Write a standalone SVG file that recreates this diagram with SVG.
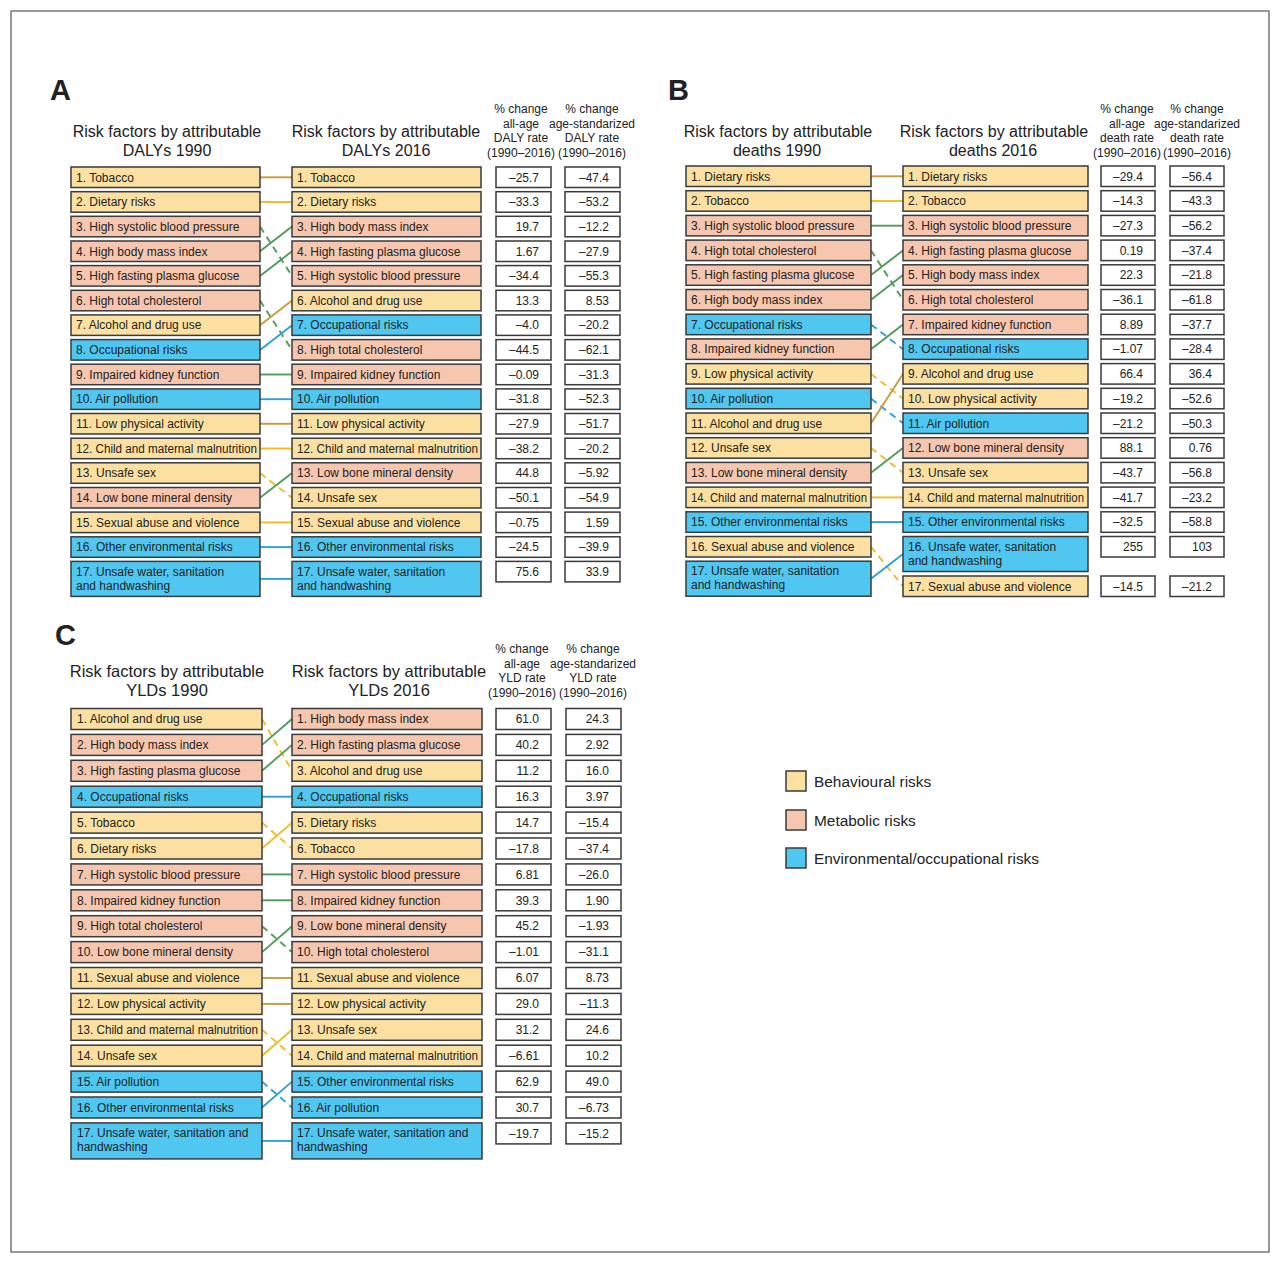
<svg xmlns="http://www.w3.org/2000/svg" width="1280" height="1264" viewBox="0 0 1280 1264">
<style>
text{font-family:"Liberation Sans",Arial,Helvetica,sans-serif;fill:#222;font-size:12px}
.bh{fill:#FBE0A1;stroke:#3a3a3a;stroke-width:1.5}
.me{fill:#F6C6AF;stroke:#3a3a3a;stroke-width:1.5}
.en{fill:#4FC7F1;stroke:#3a3a3a;stroke-width:1.5}
.nb{fill:#fff;stroke:#3a3a3a;stroke-width:1.5}
.n{text-anchor:end}
.t{font-size:16px;text-anchor:middle}
.tc{font-size:16.5px;text-anchor:middle}
.h{text-anchor:middle}
.pl{font-size:29px;font-weight:bold}
.lg{font-size:15.4px}
#conn line{fill:none;stroke-width:1.9}
.cg{stroke:#C99A3A}
.cy{stroke:#F0BC22}
.cm{stroke:#4F9B59}
.ce{stroke:#2C9FDB}
.d{stroke-dasharray:7 5}
</style>
<rect x="11" y="11" width="1258" height="1241" fill="#fff" stroke="#333" stroke-width="1"/>

<!-- headings -->
<g id="headings">
<text class="pl" x="50" y="100">A</text>
<text class="t" x="167" y="137">Risk factors by attributable</text>
<text class="t" x="167" y="156">DALYs 1990</text>
<text class="t" x="386" y="137">Risk factors by attributable</text>
<text class="t" x="386" y="156">DALYs 2016</text>
<text class="h" x="521" y="113">% change</text>
<text class="h" x="521" y="128">all-age</text>
<text class="h" x="521" y="142">DALY rate</text>
<text class="h" x="521" y="157">(1990–2016)</text>
<text class="h" x="592" y="113">% change</text>
<text class="h" x="592" y="128">age-standarized</text>
<text class="h" x="592" y="142">DALY rate</text>
<text class="h" x="592" y="157">(1990–2016)</text>

<text class="pl" x="668" y="100">B</text>
<text class="t" x="778" y="137">Risk factors by attributable</text>
<text class="t" x="777" y="156">deaths 1990</text>
<text class="t" x="994" y="137">Risk factors by attributable</text>
<text class="t" x="993" y="156">deaths 2016</text>
<text class="h" x="1127" y="113">% change</text>
<text class="h" x="1127" y="128">all-age</text>
<text class="h" x="1127" y="142">death rate</text>
<text class="h" x="1127" y="157">(1990–2016)</text>
<text class="h" x="1197" y="113">% change</text>
<text class="h" x="1197" y="128">age-standarized</text>
<text class="h" x="1197" y="142">death rate</text>
<text class="h" x="1197" y="157">(1990–2016)</text>

<text class="pl" x="55" y="645">C</text>
<text class="tc" x="167" y="677">Risk factors by attributable</text>
<text class="tc" x="167" y="696">YLDs 1990</text>
<text class="tc" x="389" y="677">Risk factors by attributable</text>
<text class="tc" x="389" y="696">YLDs 2016</text>
<text class="h" x="522" y="653">% change</text>
<text class="h" x="522" y="668">all-age</text>
<text class="h" x="522" y="682">YLD rate</text>
<text class="h" x="522" y="697">(1990–2016)</text>
<text class="h" x="593" y="653">% change</text>
<text class="h" x="593" y="668">age-standarized</text>
<text class="h" x="593" y="682">YLD rate</text>
<text class="h" x="593" y="697">(1990–2016)</text>
</g>

<!-- connectors -->
<g id="conn">
<line class="cg" x1="260" y1="177.3" x2="292" y2="177.3"/>
<line class="cy" x1="260" y1="202" x2="292" y2="202"/>
<line class="cm d" x1="260" y1="226.6" x2="292" y2="275.9"/>
<line class="cm" x1="260" y1="251.3" x2="292" y2="226.6"/>
<line class="cm" x1="260" y1="275.9" x2="292" y2="251.3"/>
<line class="cm d" x1="260" y1="300.6" x2="292" y2="349.9"/>
<line class="cg" x1="260" y1="325.2" x2="292" y2="300.6"/>
<line class="ce" x1="260" y1="349.9" x2="292" y2="325.2"/>
<line class="cm" x1="260" y1="374.5" x2="292" y2="374.5"/>
<line class="ce" x1="260" y1="399.2" x2="292" y2="399.2"/>
<line class="cg" x1="260" y1="423.8" x2="292" y2="423.8"/>
<line class="cy" x1="260" y1="448.5" x2="292" y2="448.5"/>
<line class="cy d" x1="260" y1="473.1" x2="292" y2="497.8"/>
<line class="cm" x1="260" y1="497.8" x2="292" y2="473.1"/>
<line class="cy" x1="260" y1="522.4" x2="292" y2="522.4"/>
<line class="ce" x1="260" y1="547.1" x2="292" y2="547.1"/>
<line class="ce" x1="260" y1="578.9" x2="292" y2="578.9"/>

<line class="cg" x1="871" y1="176.3" x2="903" y2="176.3"/>
<line class="cy" x1="871" y1="201" x2="903" y2="201"/>
<line class="cm" x1="871" y1="225.7" x2="903" y2="225.7"/>
<line class="cm d" x1="871" y1="250.4" x2="903" y2="299.8"/>
<line class="cm" x1="871" y1="275.1" x2="903" y2="250.4"/>
<line class="cm" x1="871" y1="299.8" x2="903" y2="275.1"/>
<line class="ce d" x1="871" y1="324.5" x2="903" y2="349.2"/>
<line class="cm" x1="871" y1="349.2" x2="903" y2="324.5"/>
<line class="cy d" x1="871" y1="373.9" x2="903" y2="398.6"/>
<line class="ce d" x1="871" y1="398.6" x2="903" y2="423.3"/>
<line class="cg" x1="871" y1="423.3" x2="903" y2="373.9"/>
<line class="cy d" x1="871" y1="448" x2="903" y2="472.7"/>
<line class="cm" x1="871" y1="472.7" x2="903" y2="448"/>
<line class="cy" x1="871" y1="497.4" x2="903" y2="497.4"/>
<line class="ce" x1="871" y1="522.1" x2="903" y2="522.1"/>
<line class="cy d" x1="871" y1="546.8" x2="903" y2="586.3"/>
<line class="ce" x1="871" y1="578.7" x2="903" y2="554"/>

<line class="cy d" x1="262" y1="719" x2="292" y2="770.8"/>
<line class="cm" x1="262" y1="744.9" x2="292" y2="719"/>
<line class="cm" x1="262" y1="770.8" x2="292" y2="744.9"/>
<line class="ce" x1="262" y1="796.7" x2="292" y2="796.7"/>
<line class="cy d" x1="262" y1="822.6" x2="292" y2="848.5"/>
<line class="cy" x1="262" y1="848.5" x2="292" y2="822.6"/>
<line class="cm" x1="262" y1="874.4" x2="292" y2="874.4"/>
<line class="cm" x1="262" y1="900.3" x2="292" y2="900.3"/>
<line class="cm d" x1="262" y1="926.2" x2="292" y2="952.1"/>
<line class="cm" x1="262" y1="952.1" x2="292" y2="926.2"/>
<line class="cg" x1="262" y1="978" x2="292" y2="978"/>
<line class="cg" x1="262" y1="1003.9" x2="292" y2="1003.9"/>
<line class="cy d" x1="262" y1="1029.8" x2="292" y2="1055.7"/>
<line class="cy" x1="262" y1="1055.7" x2="292" y2="1029.8"/>
<line class="ce d" x1="262" y1="1081.6" x2="292" y2="1107.5"/>
<line class="ce" x1="262" y1="1107.5" x2="292" y2="1081.6"/>
<line class="ce" x1="262" y1="1140.9" x2="292" y2="1140.9"/>
</g>

<!-- Panel A, 1990 -->
<g id="a90-1" transform="translate(71,167)"><rect class="bh" width="189" height="20.5"/><text x="5" y="14.5">1. Tobacco</text></g>
<g id="a90-2" transform="translate(71,191.7)"><rect class="bh" width="189" height="20.5"/><text x="5" y="14.5">2. Dietary risks</text></g>
<g id="a90-3" transform="translate(71,216.3)"><rect class="me" width="189" height="20.5"/><text x="5" y="14.5">3. High systolic blood pressure</text></g>
<g id="a90-4" transform="translate(71,241)"><rect class="me" width="189" height="20.5"/><text x="5" y="14.5">4. High body mass index</text></g>
<g id="a90-5" transform="translate(71,265.6)"><rect class="me" width="189" height="20.5"/><text x="5" y="14.5">5. High fasting plasma glucose</text></g>
<g id="a90-6" transform="translate(71,290.3)"><rect class="me" width="189" height="20.5"/><text x="5" y="14.5">6. High total cholesterol</text></g>
<g id="a90-7" transform="translate(71,314.9)"><rect class="bh" width="189" height="20.5"/><text x="5" y="14.5">7. Alcohol and drug use</text></g>
<g id="a90-8" transform="translate(71,339.6)"><rect class="en" width="189" height="20.5"/><text x="5" y="14.5">8. Occupational risks</text></g>
<g id="a90-9" transform="translate(71,364.2)"><rect class="me" width="189" height="20.5"/><text x="5" y="14.5">9. Impaired kidney function</text></g>
<g id="a90-10" transform="translate(71,388.9)"><rect class="en" width="189" height="20.5"/><text x="5" y="14.5">10. Air pollution</text></g>
<g id="a90-11" transform="translate(71,413.5)"><rect class="bh" width="189" height="20.5"/><text x="5" y="14.5">11. Low physical activity</text></g>
<g id="a90-12" transform="translate(71,438.2)"><rect class="bh" width="189" height="20.5"/><text x="5" y="14.5" textLength="181" lengthAdjust="spacingAndGlyphs">12. Child and maternal malnutrition</text></g>
<g id="a90-13" transform="translate(71,462.8)"><rect class="bh" width="189" height="20.5"/><text x="5" y="14.5">13. Unsafe sex</text></g>
<g id="a90-14" transform="translate(71,487.5)"><rect class="me" width="189" height="20.5"/><text x="5" y="14.5">14. Low bone mineral density</text></g>
<g id="a90-15" transform="translate(71,512.1)"><rect class="bh" width="189" height="20.5"/><text x="5" y="14.5">15. Sexual abuse and violence</text></g>
<g id="a90-16" transform="translate(71,536.8)"><rect class="en" width="189" height="20.5"/><text x="5" y="14.5">16. Other environmental risks</text></g>
<g id="a90-17" transform="translate(71,561.4)"><rect class="en" width="189" height="35"/><text x="5" y="14.3">17. Unsafe water, sanitation</text><text x="5" y="28.3">and handwashing</text></g>

<!-- Panel A, 2016 -->
<g id="a16-1" transform="translate(292,167)"><rect class="bh" width="189" height="20.5"/><text x="5" y="14.5">1. Tobacco</text></g>
<g id="a16-2" transform="translate(292,191.7)"><rect class="bh" width="189" height="20.5"/><text x="5" y="14.5">2. Dietary risks</text></g>
<g id="a16-3" transform="translate(292,216.3)"><rect class="me" width="189" height="20.5"/><text x="5" y="14.5">3. High body mass index</text></g>
<g id="a16-4" transform="translate(292,241)"><rect class="me" width="189" height="20.5"/><text x="5" y="14.5">4. High fasting plasma glucose</text></g>
<g id="a16-5" transform="translate(292,265.6)"><rect class="me" width="189" height="20.5"/><text x="5" y="14.5">5. High systolic blood pressure</text></g>
<g id="a16-6" transform="translate(292,290.3)"><rect class="bh" width="189" height="20.5"/><text x="5" y="14.5">6. Alcohol and drug use</text></g>
<g id="a16-7" transform="translate(292,314.9)"><rect class="en" width="189" height="20.5"/><text x="5" y="14.5">7. Occupational risks</text></g>
<g id="a16-8" transform="translate(292,339.6)"><rect class="me" width="189" height="20.5"/><text x="5" y="14.5">8. High total cholesterol</text></g>
<g id="a16-9" transform="translate(292,364.2)"><rect class="me" width="189" height="20.5"/><text x="5" y="14.5">9. Impaired kidney function</text></g>
<g id="a16-10" transform="translate(292,388.9)"><rect class="en" width="189" height="20.5"/><text x="5" y="14.5">10. Air pollution</text></g>
<g id="a16-11" transform="translate(292,413.5)"><rect class="bh" width="189" height="20.5"/><text x="5" y="14.5">11. Low physical activity</text></g>
<g id="a16-12" transform="translate(292,438.2)"><rect class="bh" width="189" height="20.5"/><text x="5" y="14.5" textLength="181" lengthAdjust="spacingAndGlyphs">12. Child and maternal malnutrition</text></g>
<g id="a16-13" transform="translate(292,462.8)"><rect class="me" width="189" height="20.5"/><text x="5" y="14.5">13. Low bone mineral density</text></g>
<g id="a16-14" transform="translate(292,487.5)"><rect class="bh" width="189" height="20.5"/><text x="5" y="14.5">14. Unsafe sex</text></g>
<g id="a16-15" transform="translate(292,512.1)"><rect class="bh" width="189" height="20.5"/><text x="5" y="14.5">15. Sexual abuse and violence</text></g>
<g id="a16-16" transform="translate(292,536.8)"><rect class="en" width="189" height="20.5"/><text x="5" y="14.5">16. Other environmental risks</text></g>
<g id="a16-17" transform="translate(292,561.4)"><rect class="en" width="189" height="35"/><text x="5" y="14.3">17. Unsafe water, sanitation</text><text x="5" y="28.3">and handwashing</text></g>

<!-- Panel A numbers -->
<g id="a-n1" transform="translate(0,167)"><rect class="nb" x="496" width="55" height="20.5"/><rect class="nb" x="565" width="55" height="20.5"/><text class="n" x="539" y="14.5">–25.7</text><text class="n" x="609" y="14.5">–47.4</text></g>
<g id="a-n2" transform="translate(0,191.7)"><rect class="nb" x="496" width="55" height="20.5"/><rect class="nb" x="565" width="55" height="20.5"/><text class="n" x="539" y="14.5">–33.3</text><text class="n" x="609" y="14.5">–53.2</text></g>
<g id="a-n3" transform="translate(0,216.3)"><rect class="nb" x="496" width="55" height="20.5"/><rect class="nb" x="565" width="55" height="20.5"/><text class="n" x="539" y="14.5">19.7</text><text class="n" x="609" y="14.5">–12.2</text></g>
<g id="a-n4" transform="translate(0,241)"><rect class="nb" x="496" width="55" height="20.5"/><rect class="nb" x="565" width="55" height="20.5"/><text class="n" x="539" y="14.5">1.67</text><text class="n" x="609" y="14.5">–27.9</text></g>
<g id="a-n5" transform="translate(0,265.6)"><rect class="nb" x="496" width="55" height="20.5"/><rect class="nb" x="565" width="55" height="20.5"/><text class="n" x="539" y="14.5">–34.4</text><text class="n" x="609" y="14.5">–55.3</text></g>
<g id="a-n6" transform="translate(0,290.3)"><rect class="nb" x="496" width="55" height="20.5"/><rect class="nb" x="565" width="55" height="20.5"/><text class="n" x="539" y="14.5">13.3</text><text class="n" x="609" y="14.5">8.53</text></g>
<g id="a-n7" transform="translate(0,314.9)"><rect class="nb" x="496" width="55" height="20.5"/><rect class="nb" x="565" width="55" height="20.5"/><text class="n" x="539" y="14.5">–4.0</text><text class="n" x="609" y="14.5">–20.2</text></g>
<g id="a-n8" transform="translate(0,339.6)"><rect class="nb" x="496" width="55" height="20.5"/><rect class="nb" x="565" width="55" height="20.5"/><text class="n" x="539" y="14.5">–44.5</text><text class="n" x="609" y="14.5">–62.1</text></g>
<g id="a-n9" transform="translate(0,364.2)"><rect class="nb" x="496" width="55" height="20.5"/><rect class="nb" x="565" width="55" height="20.5"/><text class="n" x="539" y="14.5">–0.09</text><text class="n" x="609" y="14.5">–31.3</text></g>
<g id="a-n10" transform="translate(0,388.9)"><rect class="nb" x="496" width="55" height="20.5"/><rect class="nb" x="565" width="55" height="20.5"/><text class="n" x="539" y="14.5">–31.8</text><text class="n" x="609" y="14.5">–52.3</text></g>
<g id="a-n11" transform="translate(0,413.5)"><rect class="nb" x="496" width="55" height="20.5"/><rect class="nb" x="565" width="55" height="20.5"/><text class="n" x="539" y="14.5">–27.9</text><text class="n" x="609" y="14.5">–51.7</text></g>
<g id="a-n12" transform="translate(0,438.2)"><rect class="nb" x="496" width="55" height="20.5"/><rect class="nb" x="565" width="55" height="20.5"/><text class="n" x="539" y="14.5">–38.2</text><text class="n" x="609" y="14.5">–20.2</text></g>
<g id="a-n13" transform="translate(0,462.8)"><rect class="nb" x="496" width="55" height="20.5"/><rect class="nb" x="565" width="55" height="20.5"/><text class="n" x="539" y="14.5">44.8</text><text class="n" x="609" y="14.5">–5.92</text></g>
<g id="a-n14" transform="translate(0,487.5)"><rect class="nb" x="496" width="55" height="20.5"/><rect class="nb" x="565" width="55" height="20.5"/><text class="n" x="539" y="14.5">–50.1</text><text class="n" x="609" y="14.5">–54.9</text></g>
<g id="a-n15" transform="translate(0,512.1)"><rect class="nb" x="496" width="55" height="20.5"/><rect class="nb" x="565" width="55" height="20.5"/><text class="n" x="539" y="14.5">–0.75</text><text class="n" x="609" y="14.5">1.59</text></g>
<g id="a-n16" transform="translate(0,536.8)"><rect class="nb" x="496" width="55" height="20.5"/><rect class="nb" x="565" width="55" height="20.5"/><text class="n" x="539" y="14.5">–24.5</text><text class="n" x="609" y="14.5">–39.9</text></g>
<g id="a-n17" transform="translate(0,561.4)"><rect class="nb" x="496" width="55" height="20.5"/><rect class="nb" x="565" width="55" height="20.5"/><text class="n" x="539" y="14.5">75.6</text><text class="n" x="609" y="14.5">33.9</text></g>

<!-- Panel B, 1990 -->
<g id="b90-1" transform="translate(686,166)"><rect class="bh" width="185" height="20.5"/><text x="5" y="14.5">1. Dietary risks</text></g>
<g id="b90-2" transform="translate(686,190.7)"><rect class="bh" width="185" height="20.5"/><text x="5" y="14.5">2. Tobacco</text></g>
<g id="b90-3" transform="translate(686,215.4)"><rect class="me" width="185" height="20.5"/><text x="5" y="14.5">3. High systolic blood pressure</text></g>
<g id="b90-4" transform="translate(686,240.1)"><rect class="me" width="185" height="20.5"/><text x="5" y="14.5">4. High total cholesterol</text></g>
<g id="b90-5" transform="translate(686,264.8)"><rect class="me" width="185" height="20.5"/><text x="5" y="14.5">5. High fasting plasma glucose</text></g>
<g id="b90-6" transform="translate(686,289.5)"><rect class="me" width="185" height="20.5"/><text x="5" y="14.5">6. High body mass index</text></g>
<g id="b90-7" transform="translate(686,314.2)"><rect class="en" width="185" height="20.5"/><text x="5" y="14.5">7. Occupational risks</text></g>
<g id="b90-8" transform="translate(686,338.9)"><rect class="me" width="185" height="20.5"/><text x="5" y="14.5">8. Impaired kidney function</text></g>
<g id="b90-9" transform="translate(686,363.6)"><rect class="bh" width="185" height="20.5"/><text x="5" y="14.5">9. Low physical activity</text></g>
<g id="b90-10" transform="translate(686,388.3)"><rect class="en" width="185" height="20.5"/><text x="5" y="14.5">10. Air pollution</text></g>
<g id="b90-11" transform="translate(686,413)"><rect class="bh" width="185" height="20.5"/><text x="5" y="14.5">11. Alcohol and drug use</text></g>
<g id="b90-12" transform="translate(686,437.7)"><rect class="bh" width="185" height="20.5"/><text x="5" y="14.5">12. Unsafe sex</text></g>
<g id="b90-13" transform="translate(686,462.4)"><rect class="me" width="185" height="20.5"/><text x="5" y="14.5">13. Low bone mineral density</text></g>
<g id="b90-14" transform="translate(686,487.1)"><rect class="bh" width="185" height="20.5"/><text x="5" y="14.5" textLength="176" lengthAdjust="spacingAndGlyphs">14. Child and maternal malnutrition</text></g>
<g id="b90-15" transform="translate(686,511.8)"><rect class="en" width="185" height="20.5"/><text x="5" y="14.5">15. Other environmental risks</text></g>
<g id="b90-16" transform="translate(686,536.5)"><rect class="bh" width="185" height="20.5"/><text x="5" y="14.5">16. Sexual abuse and violence</text></g>
<g id="b90-17" transform="translate(686,561.2)"><rect class="en" width="185" height="35"/><text x="5" y="14.3">17. Unsafe water, sanitation</text><text x="5" y="28.3">and handwashing</text></g>

<!-- Panel B, 2016 -->
<g id="b16-1" transform="translate(903,166)"><rect class="bh" width="185" height="20.5"/><text x="5" y="14.5">1. Dietary risks</text></g>
<g id="b16-2" transform="translate(903,190.7)"><rect class="bh" width="185" height="20.5"/><text x="5" y="14.5">2. Tobacco</text></g>
<g id="b16-3" transform="translate(903,215.4)"><rect class="me" width="185" height="20.5"/><text x="5" y="14.5">3. High systolic blood pressure</text></g>
<g id="b16-4" transform="translate(903,240.1)"><rect class="me" width="185" height="20.5"/><text x="5" y="14.5">4. High fasting plasma glucose</text></g>
<g id="b16-5" transform="translate(903,264.8)"><rect class="me" width="185" height="20.5"/><text x="5" y="14.5">5. High body mass index</text></g>
<g id="b16-6" transform="translate(903,289.5)"><rect class="me" width="185" height="20.5"/><text x="5" y="14.5">6. High total cholesterol</text></g>
<g id="b16-7" transform="translate(903,314.2)"><rect class="me" width="185" height="20.5"/><text x="5" y="14.5">7. Impaired kidney function</text></g>
<g id="b16-8" transform="translate(903,338.9)"><rect class="en" width="185" height="20.5"/><text x="5" y="14.5">8. Occupational risks</text></g>
<g id="b16-9" transform="translate(903,363.6)"><rect class="bh" width="185" height="20.5"/><text x="5" y="14.5">9. Alcohol and drug use</text></g>
<g id="b16-10" transform="translate(903,388.3)"><rect class="bh" width="185" height="20.5"/><text x="5" y="14.5">10. Low physical activity</text></g>
<g id="b16-11" transform="translate(903,413)"><rect class="en" width="185" height="20.5"/><text x="5" y="14.5">11. Air pollution</text></g>
<g id="b16-12" transform="translate(903,437.7)"><rect class="me" width="185" height="20.5"/><text x="5" y="14.5">12. Low bone mineral density</text></g>
<g id="b16-13" transform="translate(903,462.4)"><rect class="bh" width="185" height="20.5"/><text x="5" y="14.5">13. Unsafe sex</text></g>
<g id="b16-14" transform="translate(903,487.1)"><rect class="bh" width="185" height="20.5"/><text x="5" y="14.5" textLength="176" lengthAdjust="spacingAndGlyphs">14. Child and maternal malnutrition</text></g>
<g id="b16-15" transform="translate(903,511.8)"><rect class="en" width="185" height="20.5"/><text x="5" y="14.5">15. Other environmental risks</text></g>
<g id="b16-16" transform="translate(903,536.5)"><rect class="en" width="185" height="35"/><text x="5" y="14.3">16. Unsafe water, sanitation</text><text x="5" y="28.3">and handwashing</text></g>
<g id="b16-17" transform="translate(903,576)"><rect class="bh" width="185" height="20.5"/><text x="5" y="14.5">17. Sexual abuse and violence</text></g>

<!-- Panel B numbers -->
<g id="b-n1" transform="translate(0,166)"><rect class="nb" x="1101" width="54" height="20.5"/><rect class="nb" x="1170" width="54" height="20.5"/><text class="n" x="1143" y="14.5">–29.4</text><text class="n" x="1212" y="14.5">–56.4</text></g>
<g id="b-n2" transform="translate(0,190.7)"><rect class="nb" x="1101" width="54" height="20.5"/><rect class="nb" x="1170" width="54" height="20.5"/><text class="n" x="1143" y="14.5">–14.3</text><text class="n" x="1212" y="14.5">–43.3</text></g>
<g id="b-n3" transform="translate(0,215.4)"><rect class="nb" x="1101" width="54" height="20.5"/><rect class="nb" x="1170" width="54" height="20.5"/><text class="n" x="1143" y="14.5">–27.3</text><text class="n" x="1212" y="14.5">–56.2</text></g>
<g id="b-n4" transform="translate(0,240.1)"><rect class="nb" x="1101" width="54" height="20.5"/><rect class="nb" x="1170" width="54" height="20.5"/><text class="n" x="1143" y="14.5">0.19</text><text class="n" x="1212" y="14.5">–37.4</text></g>
<g id="b-n5" transform="translate(0,264.8)"><rect class="nb" x="1101" width="54" height="20.5"/><rect class="nb" x="1170" width="54" height="20.5"/><text class="n" x="1143" y="14.5">22.3</text><text class="n" x="1212" y="14.5">–21.8</text></g>
<g id="b-n6" transform="translate(0,289.5)"><rect class="nb" x="1101" width="54" height="20.5"/><rect class="nb" x="1170" width="54" height="20.5"/><text class="n" x="1143" y="14.5">–36.1</text><text class="n" x="1212" y="14.5">–61.8</text></g>
<g id="b-n7" transform="translate(0,314.2)"><rect class="nb" x="1101" width="54" height="20.5"/><rect class="nb" x="1170" width="54" height="20.5"/><text class="n" x="1143" y="14.5">8.89</text><text class="n" x="1212" y="14.5">–37.7</text></g>
<g id="b-n8" transform="translate(0,338.9)"><rect class="nb" x="1101" width="54" height="20.5"/><rect class="nb" x="1170" width="54" height="20.5"/><text class="n" x="1143" y="14.5">–1.07</text><text class="n" x="1212" y="14.5">–28.4</text></g>
<g id="b-n9" transform="translate(0,363.6)"><rect class="nb" x="1101" width="54" height="20.5"/><rect class="nb" x="1170" width="54" height="20.5"/><text class="n" x="1143" y="14.5">66.4</text><text class="n" x="1212" y="14.5">36.4</text></g>
<g id="b-n10" transform="translate(0,388.3)"><rect class="nb" x="1101" width="54" height="20.5"/><rect class="nb" x="1170" width="54" height="20.5"/><text class="n" x="1143" y="14.5">–19.2</text><text class="n" x="1212" y="14.5">–52.6</text></g>
<g id="b-n11" transform="translate(0,413)"><rect class="nb" x="1101" width="54" height="20.5"/><rect class="nb" x="1170" width="54" height="20.5"/><text class="n" x="1143" y="14.5">–21.2</text><text class="n" x="1212" y="14.5">–50.3</text></g>
<g id="b-n12" transform="translate(0,437.7)"><rect class="nb" x="1101" width="54" height="20.5"/><rect class="nb" x="1170" width="54" height="20.5"/><text class="n" x="1143" y="14.5">88.1</text><text class="n" x="1212" y="14.5">0.76</text></g>
<g id="b-n13" transform="translate(0,462.4)"><rect class="nb" x="1101" width="54" height="20.5"/><rect class="nb" x="1170" width="54" height="20.5"/><text class="n" x="1143" y="14.5">–43.7</text><text class="n" x="1212" y="14.5">–56.8</text></g>
<g id="b-n14" transform="translate(0,487.1)"><rect class="nb" x="1101" width="54" height="20.5"/><rect class="nb" x="1170" width="54" height="20.5"/><text class="n" x="1143" y="14.5">–41.7</text><text class="n" x="1212" y="14.5">–23.2</text></g>
<g id="b-n15" transform="translate(0,511.8)"><rect class="nb" x="1101" width="54" height="20.5"/><rect class="nb" x="1170" width="54" height="20.5"/><text class="n" x="1143" y="14.5">–32.5</text><text class="n" x="1212" y="14.5">–58.8</text></g>
<g id="b-n16" transform="translate(0,536.5)"><rect class="nb" x="1101" width="54" height="20.5"/><rect class="nb" x="1170" width="54" height="20.5"/><text class="n" x="1143" y="14.5">255</text><text class="n" x="1212" y="14.5">103</text></g>
<g id="b-n17" transform="translate(0,576)"><rect class="nb" x="1101" width="54" height="20.5"/><rect class="nb" x="1170" width="54" height="20.5"/><text class="n" x="1143" y="14.5">–14.5</text><text class="n" x="1212" y="14.5">–21.2</text></g>

<!-- Panel C, 1990 -->
<g id="c90-1" transform="translate(71,708.5)"><rect class="bh" width="191" height="21"/><text x="6" y="14.8">1. Alcohol and drug use</text></g>
<g id="c90-2" transform="translate(71,734.4)"><rect class="me" width="191" height="21"/><text x="6" y="14.8">2. High body mass index</text></g>
<g id="c90-3" transform="translate(71,760.3)"><rect class="me" width="191" height="21"/><text x="6" y="14.8">3. High fasting plasma glucose</text></g>
<g id="c90-4" transform="translate(71,786.2)"><rect class="en" width="191" height="21"/><text x="6" y="14.8">4. Occupational risks</text></g>
<g id="c90-5" transform="translate(71,812.1)"><rect class="bh" width="191" height="21"/><text x="6" y="14.8">5. Tobacco</text></g>
<g id="c90-6" transform="translate(71,838)"><rect class="bh" width="191" height="21"/><text x="6" y="14.8">6. Dietary risks</text></g>
<g id="c90-7" transform="translate(71,863.9)"><rect class="me" width="191" height="21"/><text x="6" y="14.8">7. High systolic blood pressure</text></g>
<g id="c90-8" transform="translate(71,889.8)"><rect class="me" width="191" height="21"/><text x="6" y="14.8">8. Impaired kidney function</text></g>
<g id="c90-9" transform="translate(71,915.7)"><rect class="me" width="191" height="21"/><text x="6" y="14.8">9. High total cholesterol</text></g>
<g id="c90-10" transform="translate(71,941.6)"><rect class="me" width="191" height="21"/><text x="6" y="14.8">10. Low bone mineral density</text></g>
<g id="c90-11" transform="translate(71,967.5)"><rect class="bh" width="191" height="21"/><text x="6" y="14.8">11. Sexual abuse and violence</text></g>
<g id="c90-12" transform="translate(71,993.4)"><rect class="bh" width="191" height="21"/><text x="6" y="14.8">12. Low physical activity</text></g>
<g id="c90-13" transform="translate(71,1019.3)"><rect class="bh" width="191" height="21"/><text x="6" y="14.8" textLength="181" lengthAdjust="spacingAndGlyphs">13. Child and maternal malnutrition</text></g>
<g id="c90-14" transform="translate(71,1045.2)"><rect class="bh" width="191" height="21"/><text x="6" y="14.8">14. Unsafe sex</text></g>
<g id="c90-15" transform="translate(71,1071.1)"><rect class="en" width="191" height="21"/><text x="6" y="14.8">15. Air pollution</text></g>
<g id="c90-16" transform="translate(71,1097)"><rect class="en" width="191" height="21"/><text x="6" y="14.8">16. Other environmental risks</text></g>
<g id="c90-17" transform="translate(71,1122.9)"><rect class="en" width="191" height="36"/><text x="6" y="14.5">17. Unsafe water, sanitation and</text><text x="6" y="28.5">handwashing</text></g>

<!-- Panel C, 2016 -->
<g id="c16-1" transform="translate(292,708.5)"><rect class="me" width="190" height="21"/><text x="5" y="14.8">1. High body mass index</text></g>
<g id="c16-2" transform="translate(292,734.4)"><rect class="me" width="190" height="21"/><text x="5" y="14.8">2. High fasting plasma glucose</text></g>
<g id="c16-3" transform="translate(292,760.3)"><rect class="bh" width="190" height="21"/><text x="5" y="14.8">3. Alcohol and drug use</text></g>
<g id="c16-4" transform="translate(292,786.2)"><rect class="en" width="190" height="21"/><text x="5" y="14.8">4. Occupational risks</text></g>
<g id="c16-5" transform="translate(292,812.1)"><rect class="bh" width="190" height="21"/><text x="5" y="14.8">5. Dietary risks</text></g>
<g id="c16-6" transform="translate(292,838)"><rect class="bh" width="190" height="21"/><text x="5" y="14.8">6. Tobacco</text></g>
<g id="c16-7" transform="translate(292,863.9)"><rect class="me" width="190" height="21"/><text x="5" y="14.8">7. High systolic blood pressure</text></g>
<g id="c16-8" transform="translate(292,889.8)"><rect class="me" width="190" height="21"/><text x="5" y="14.8">8. Impaired kidney function</text></g>
<g id="c16-9" transform="translate(292,915.7)"><rect class="me" width="190" height="21"/><text x="5" y="14.8">9. Low bone mineral density</text></g>
<g id="c16-10" transform="translate(292,941.6)"><rect class="me" width="190" height="21"/><text x="5" y="14.8">10. High total cholesterol</text></g>
<g id="c16-11" transform="translate(292,967.5)"><rect class="bh" width="190" height="21"/><text x="5" y="14.8">11. Sexual abuse and violence</text></g>
<g id="c16-12" transform="translate(292,993.4)"><rect class="bh" width="190" height="21"/><text x="5" y="14.8">12. Low physical activity</text></g>
<g id="c16-13" transform="translate(292,1019.3)"><rect class="bh" width="190" height="21"/><text x="5" y="14.8">13. Unsafe sex</text></g>
<g id="c16-14" transform="translate(292,1045.2)"><rect class="bh" width="190" height="21"/><text x="5" y="14.8" textLength="181" lengthAdjust="spacingAndGlyphs">14. Child and maternal malnutrition</text></g>
<g id="c16-15" transform="translate(292,1071.1)"><rect class="en" width="190" height="21"/><text x="5" y="14.8">15. Other environmental risks</text></g>
<g id="c16-16" transform="translate(292,1097)"><rect class="en" width="190" height="21"/><text x="5" y="14.8">16. Air pollution</text></g>
<g id="c16-17" transform="translate(292,1122.9)"><rect class="en" width="190" height="36"/><text x="5" y="14.5">17. Unsafe water, sanitation and</text><text x="5" y="28.5">handwashing</text></g>

<!-- Panel C numbers -->
<g id="c-n1" transform="translate(0,708.5)"><rect class="nb" x="496" width="55" height="21"/><rect class="nb" x="566" width="55" height="21"/><text class="n" x="539" y="14.8">61.0</text><text class="n" x="609" y="14.8">24.3</text></g>
<g id="c-n2" transform="translate(0,734.4)"><rect class="nb" x="496" width="55" height="21"/><rect class="nb" x="566" width="55" height="21"/><text class="n" x="539" y="14.8">40.2</text><text class="n" x="609" y="14.8">2.92</text></g>
<g id="c-n3" transform="translate(0,760.3)"><rect class="nb" x="496" width="55" height="21"/><rect class="nb" x="566" width="55" height="21"/><text class="n" x="539" y="14.8">11.2</text><text class="n" x="609" y="14.8">16.0</text></g>
<g id="c-n4" transform="translate(0,786.2)"><rect class="nb" x="496" width="55" height="21"/><rect class="nb" x="566" width="55" height="21"/><text class="n" x="539" y="14.8">16.3</text><text class="n" x="609" y="14.8">3.97</text></g>
<g id="c-n5" transform="translate(0,812.1)"><rect class="nb" x="496" width="55" height="21"/><rect class="nb" x="566" width="55" height="21"/><text class="n" x="539" y="14.8">14.7</text><text class="n" x="609" y="14.8">–15.4</text></g>
<g id="c-n6" transform="translate(0,838)"><rect class="nb" x="496" width="55" height="21"/><rect class="nb" x="566" width="55" height="21"/><text class="n" x="539" y="14.8">–17.8</text><text class="n" x="609" y="14.8">–37.4</text></g>
<g id="c-n7" transform="translate(0,863.9)"><rect class="nb" x="496" width="55" height="21"/><rect class="nb" x="566" width="55" height="21"/><text class="n" x="539" y="14.8">6.81</text><text class="n" x="609" y="14.8">–26.0</text></g>
<g id="c-n8" transform="translate(0,889.8)"><rect class="nb" x="496" width="55" height="21"/><rect class="nb" x="566" width="55" height="21"/><text class="n" x="539" y="14.8">39.3</text><text class="n" x="609" y="14.8">1.90</text></g>
<g id="c-n9" transform="translate(0,915.7)"><rect class="nb" x="496" width="55" height="21"/><rect class="nb" x="566" width="55" height="21"/><text class="n" x="539" y="14.8">45.2</text><text class="n" x="609" y="14.8">–1.93</text></g>
<g id="c-n10" transform="translate(0,941.6)"><rect class="nb" x="496" width="55" height="21"/><rect class="nb" x="566" width="55" height="21"/><text class="n" x="539" y="14.8">–1.01</text><text class="n" x="609" y="14.8">–31.1</text></g>
<g id="c-n11" transform="translate(0,967.5)"><rect class="nb" x="496" width="55" height="21"/><rect class="nb" x="566" width="55" height="21"/><text class="n" x="539" y="14.8">6.07</text><text class="n" x="609" y="14.8">8.73</text></g>
<g id="c-n12" transform="translate(0,993.4)"><rect class="nb" x="496" width="55" height="21"/><rect class="nb" x="566" width="55" height="21"/><text class="n" x="539" y="14.8">29.0</text><text class="n" x="609" y="14.8">–11.3</text></g>
<g id="c-n13" transform="translate(0,1019.3)"><rect class="nb" x="496" width="55" height="21"/><rect class="nb" x="566" width="55" height="21"/><text class="n" x="539" y="14.8">31.2</text><text class="n" x="609" y="14.8">24.6</text></g>
<g id="c-n14" transform="translate(0,1045.2)"><rect class="nb" x="496" width="55" height="21"/><rect class="nb" x="566" width="55" height="21"/><text class="n" x="539" y="14.8">–6.61</text><text class="n" x="609" y="14.8">10.2</text></g>
<g id="c-n15" transform="translate(0,1071.1)"><rect class="nb" x="496" width="55" height="21"/><rect class="nb" x="566" width="55" height="21"/><text class="n" x="539" y="14.8">62.9</text><text class="n" x="609" y="14.8">49.0</text></g>
<g id="c-n16" transform="translate(0,1097)"><rect class="nb" x="496" width="55" height="21"/><rect class="nb" x="566" width="55" height="21"/><text class="n" x="539" y="14.8">30.7</text><text class="n" x="609" y="14.8">–6.73</text></g>
<g id="c-n17" transform="translate(0,1122.9)"><rect class="nb" x="496" width="55" height="21"/><rect class="nb" x="566" width="55" height="21"/><text class="n" x="539" y="14.8">–19.7</text><text class="n" x="609" y="14.8">–15.2</text></g>

<!-- legend -->
<g id="legend">
<rect class="bh" x="786" y="771" width="20" height="20"/><text class="lg" x="814" y="786.5">Behavioural risks</text>
<rect class="me" x="786" y="810" width="20" height="20"/><text class="lg" x="814" y="825.5">Metabolic risks</text>
<rect class="en" x="786" y="848" width="20" height="20"/><text class="lg" x="814" y="863.5">Environmental/occupational risks</text>
</g>
</svg>
